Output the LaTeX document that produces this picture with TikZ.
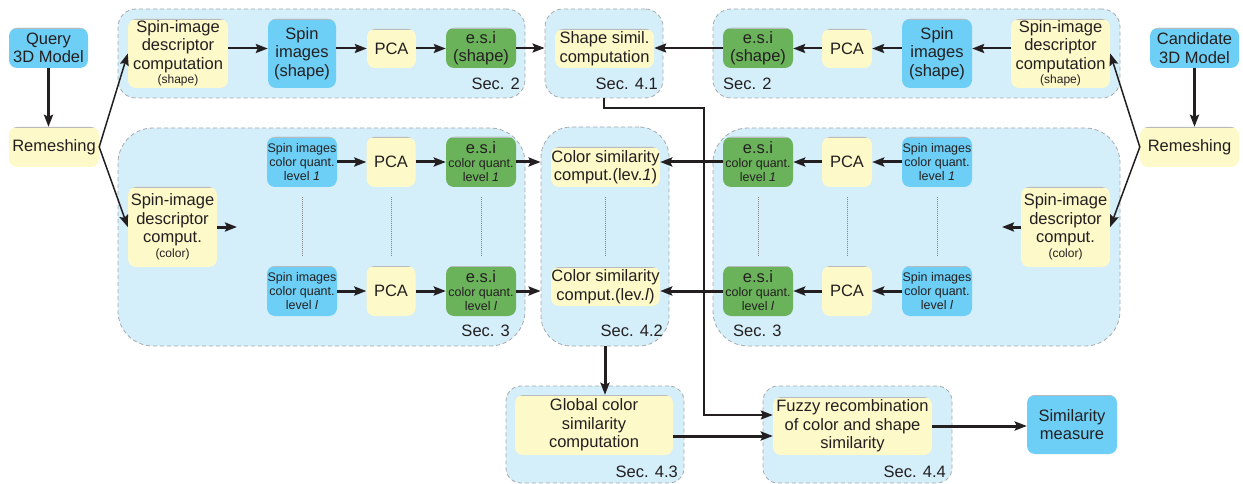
\documentclass[tikz,border=0pt]{standalone}
\usepackage{fontspec}
\setmainfont{Liberation Sans}
\usetikzlibrary{arrows.meta}
\definecolor{grpfill}{HTML}{D4EEFA}
\definecolor{bluebox}{HTML}{6ECFF6}
\definecolor{yelbox}{HTML}{FDF9C9}
\definecolor{greenbox}{HTML}{6BB35B}
\definecolor{dashgray}{HTML}{A7A9AC}
\definecolor{ink}{HTML}{231F20}

\tikzset{
  big/.style={font=\fontsize{16.5}{18.5}\selectfont},
  small/.style={font=\fontsize{12.5}{14}\selectfont},
  sz/.style 2 args={minimum width=#1pt, minimum height=#2pt},
  basebox/.style={rounded corners=8pt, inner sep=0pt, align=center, text=ink, big,
    path picture={\draw[dashgray!80, line width=2pt]
      (path picture bounding box.north west) -- (path picture bounding box.north east);}},
  bluenode/.style={basebox, fill=bluebox},
  yelnode/.style={basebox, fill=yelbox},
  grnnode/.style={basebox, fill=greenbox},
  group/.style={fill=grpfill, draw=dashgray, dash pattern=on 4pt off 3pt, line width=0.8pt, inner sep=0pt},
  seclabel/.style={text=ink, big, inner sep=0pt},
  arr/.style={draw=ink, line width=2pt, -{Stealth[length=12pt,width=9pt,inset=2pt]}},
  thickarr/.style={arr, line width=3pt},
  thinarr/.style={arr, line width=1.5pt},
  dots/.style={draw=gray, dash pattern=on 1pt off 1pt, line width=0.8pt},
}
\newcommand{\smalltxt}[1]{{\fontsize{12.5}{14}\selectfont #1}}
\newcommand{\tinytxt}[1]{{\fontsize{12}{13}\selectfont #1}}

\begin{document}
\begin{tikzpicture}[x=1pt, y=-1pt]
\useasboundingbox (0,0) rectangle (1243,484);

% ---------- section groups ----------
\node[group, rounded corners=18pt, sz={407}{89}]  (grpA) at (321.5,53.5) {};
\node[group, rounded corners=18pt, sz={118}{89}]  (grpB) at (604,53.5) {};
\node[group, rounded corners=18pt, sz={407}{89}]  (grpC) at (916.5,53.5) {};
\node[group, rounded corners=35pt, sz={407}{218}] (grpD) at (321.5,237) {};
\node[group, rounded corners=30pt, sz={128}{219}] (grpE) at (605,236.5) {};
\node[group, rounded corners=35pt, sz={407}{218}] (grpF) at (916.5,237) {};
\node[group, rounded corners=15pt, sz={178}{97}]  (grpG) at (595,434.5) {};
\node[group, rounded corners=15pt, sz={189}{97}]  (grpH) at (857.5,434.5) {};

\node[seclabel, anchor=base east] (secA) at (520,90) {Sec. 2};
\node[seclabel, anchor=base east] (secB) at (658,90) {Sec. 4.1};
\node[seclabel, anchor=base west] (secC) at (723,90) {Sec. 2};
\node[seclabel, anchor=base east] (secD) at (510,336) {Sec. 3};
\node[seclabel, anchor=base east] (secE) at (663,336) {Sec. 4.2};
\node[seclabel, anchor=base west] (secF) at (733,336) {Sec. 3};
\node[seclabel, anchor=base east] (secG) at (678,477) {Sec. 4.3};
\node[seclabel, anchor=base east] (secH) at (946,477) {Sec. 4.4};

% ---------- inputs ----------
\node[bluenode, sz={79}{40}] (query) at (48.5,48) {Query\\3D Model};
\node[yelnode, sz={90}{40}]  (remL)  at (54,147) {Remeshing};
\node[bluenode, sz={89}{40}] (cand)  at (1194.5,48) {Candidate\\3D Model};
\node[yelnode, sz={99}{40}]  (remR)  at (1189.5,147) {Remeshing};

% ---------- shape branch, query side ----------
\node[yelnode, sz={100}{69}] (descS) at (178,53.5)
  {Spin-image\\descriptor\\computation\\[-4pt]\tinytxt{(shape)}};
\node[bluenode, sz={68}{69}] (spinS) at (302,53.5) {Spin\\images\\(shape)};
\node[yelnode, sz={49}{39}]  (pcaS)  at (391.5,48.5) {PCA};
\node[grnnode, sz={70}{40}]  (esiS)  at (481,48) {e.s.i\\(shape)};

\node[yelnode, sz={99}{39}]  (shapeSim) at (604.5,48.5) {Shape simil.\\computation};

% ---------- shape branch, candidate side ----------
\node[grnnode, sz={70}{40}]  (esiR)  at (758,48) {e.s.i\\(shape)};
\node[yelnode, sz={50}{39}]  (pcaR)  at (847,48.5) {PCA};
\node[bluenode, sz={70}{69}] (spinR) at (937,53.5) {Spin\\images\\(shape)};
\node[yelnode, sz={99}{69}]  (descR) at (1060.5,53.5)
  {Spin-image\\descriptor\\computation\\[-4pt]\tinytxt{(shape)}};

% ---------- colour branch, query side ----------
\node[yelnode, sz={89}{80}] (descCL) at (172.5,227)
  {Spin-image\\descriptor\\comput.\\[-4pt]\tinytxt{(color)}};
\node[bluenode, small, sz={70}{50}] (spin1L) at (302,162) {Spin images\\color quant.\\level \textit{1}};
\node[bluenode, small, sz={70}{50}] (spinlL) at (302,291) {Spin images\\color quant.\\level \textit{l}};
\node[yelnode, sz={49}{50}] (pca1L) at (391,162) {PCA};
\node[yelnode, sz={49}{50}] (pcalL) at (391,291) {PCA};
\node[grnnode, sz={70}{50}] (esi1L) at (481,162)
  {e.s.i\\[-4.5pt]\smalltxt{color quant.}\\[-4.5pt]\smalltxt{level \textit{1}}};
\node[grnnode, sz={70}{50}] (esilL) at (481,291)
  {e.s.i\\[-4.5pt]\smalltxt{color quant.}\\[-4.5pt]\smalltxt{level \textit{l}}};

\node[yelnode, sz={109}{40}] (col1) at (605.5,167) {Color similarity\\comput.(lev.\textit{1})};
\node[yelnode, sz={109}{39}] (coll) at (605.5,286.5) {Color similarity\\comput.(lev.\textit{l})};

% ---------- colour branch, candidate side ----------
\node[grnnode, sz={70}{50}] (esi1R) at (758,162)
  {e.s.i\\[-4.5pt]\smalltxt{color quant.}\\[-4.5pt]\smalltxt{level \textit{1}}};
\node[grnnode, sz={70}{50}] (esilR) at (758,291)
  {e.s.i\\[-4.5pt]\smalltxt{color quant.}\\[-4.5pt]\smalltxt{level \textit{l}}};
\node[yelnode, sz={50}{50}] (pca1R) at (847,162) {PCA};
\node[yelnode, sz={50}{50}] (pcalR) at (847,291) {PCA};
\node[bluenode, small, sz={70}{50}] (spin1R) at (937,162) {Spin images\\color quant.\\level \textit{1}};
\node[bluenode, small, sz={70}{50}] (spinlR) at (937,291) {Spin images\\color quant.\\level \textit{l}};
\node[yelnode, sz={89}{80}] (descCR) at (1065.5,227)
  {Spin-image\\descriptor\\comput.\\[-4pt]\tinytxt{(color)}};

% ---------- final stages ----------
\node[yelnode, sz={158}{60}] (global) at (594,425) {Global color\\similarity\\computation};
\node[yelnode, sz={159}{58}] (fuzzy)  at (852.5,426) {Fuzzy recombination\\of color and shape\\similarity};
\node[bluenode, sz={90}{59}] (sim)    at (1072,424.5) {Similarity\\measure};

% ---------- elided levels ----------
\foreach \a/\b in {spin1L/spinlL, pca1L/pcalL, esi1L/esilL, col1/coll,
                   esi1R/esilR, pca1R/pcalR, spin1R/spinlR}
  \draw[dots] ([yshift=-10pt]\a.south) -- ([yshift=10pt]\b.north);

% ---------- connectors ----------
\draw[thickarr] (query.south) -- (query.south |- remL.north);
\draw[thickarr] (cand.south) -- (cand.south |- remR.north);
\draw[thinarr] (remL.east) -- (descS.west);
\draw[thinarr] (remL.east) -- (descCL.west);
\draw[thinarr] (remR.west) -- (descR.east);
\draw[thinarr] (remR.west) -- (descCR.east);

% shape row
\draw[arr] (descS.east |- pcaS.west) -- (spinS.west |- pcaS.west);
\draw[arr] (spinS.east |- pcaS.west) -- (pcaS.west);
\draw[arr] (pcaS.east) -- (pcaS.east -| esiS.west);
\draw[arr] (esiS.east) -- (esiS.east -| grpB.west);
\draw[arr] (descR.west |- pcaR.east) -- (spinR.east |- pcaR.east);
\draw[arr] (spinR.west |- pcaR.east) -- (pcaR.east);
\draw[arr] (pcaR.west) -- (pcaR.west -| esiR.east);
\draw[arr] (esiR.west) -- (esiR.west -| shapeSim.east);

% colour rows
\coordinate (descCLend) at (237,227);
\coordinate (descCRend) at (1002,227);
\draw[thickarr] (descCL.east) -- (descCLend);
\draw[thickarr] (descCR.west) -- (descCRend);
\foreach \a/\b in {spin1L/pca1L, spinlL/pcalL, pca1L/esi1L, pcalL/esilL,
                   spin1R/pca1R, spinlR/pcalR, pca1R/esi1R, pcalR/esilR}
  \draw[thickarr] (\a) -- (\b);
\draw[thickarr] (esi1L.east) -- (esi1L.east -| grpE.west);
\draw[thickarr] (esilL.east) -- (esilL.east -| grpE.west);
\draw[thickarr] (esi1R.west) -- (esi1R.west -| col1.east);
\draw[thickarr] (esilR.west) -- (esilR.west -| coll.east);

% towards the final measure
\coordinate (bend) at (704,108);
\draw[arr] (grpB.south) |- (bend) |- ([yshift=11pt]fuzzy.west);
\draw[thickarr] (grpE.south) -- (grpE.south |- global.north);
\draw[thickarr] ([yshift=-11pt]global.east) -- ([yshift=-11pt]global.east -| fuzzy.west);
\draw[thickarr] (fuzzy.east) -- (fuzzy.east -| sim.west);
\end{tikzpicture}
\end{document}
